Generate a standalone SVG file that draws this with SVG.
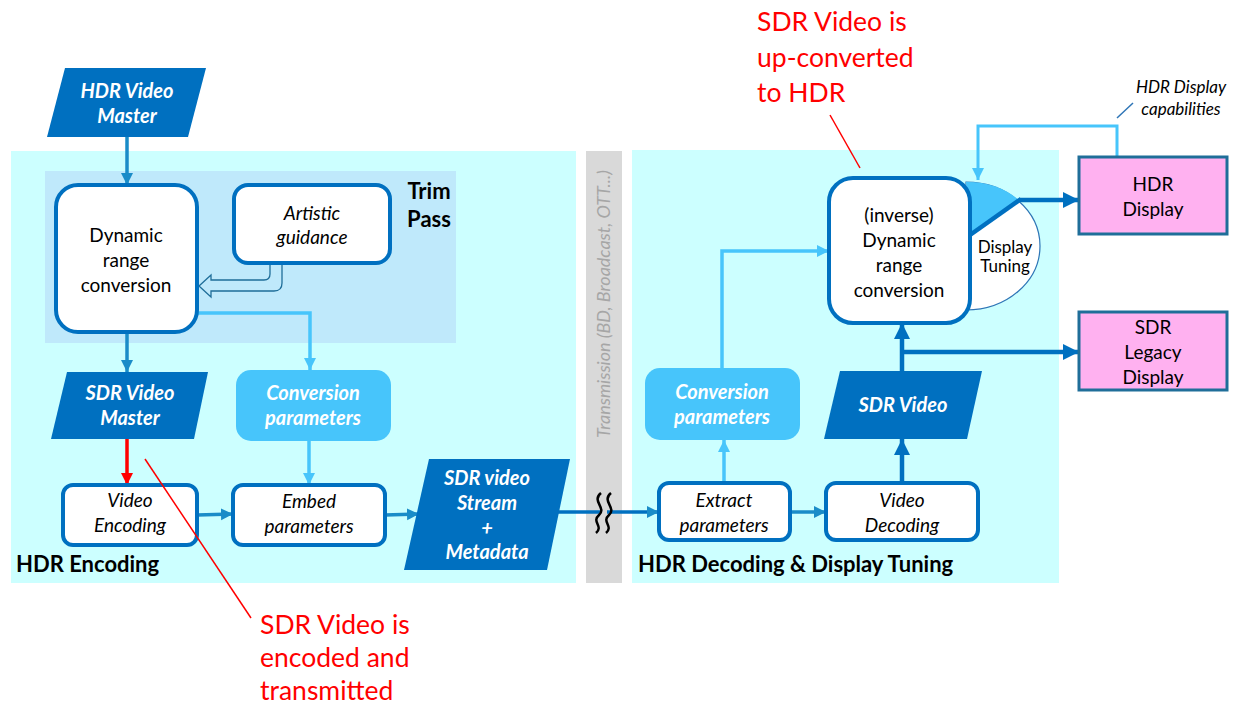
<svg xmlns="http://www.w3.org/2000/svg" width="1238" height="707" viewBox="0 0 1238 707">
<style>
text{font-family:Lato,"Liberation Sans",sans-serif;}
.t{font-size:19px;fill:#000;text-anchor:middle;}
.i{font-style:italic;}
.bw{font-size:20px;font-weight:bold;font-style:italic;fill:#fff;text-anchor:middle;}
.lbl{font-size:22px;font-weight:bold;fill:#000;}
.red{font-size:26.5px;fill:#ff0000;}
.box{fill:#fff;stroke:#0070c0;stroke-width:4;}
.para{fill:#0070c0;}
.lb{fill:#47c5fb;}
.pink{fill:#ffb1f0;stroke:#1f6e99;stroke-width:3;}
.cm{fill:none;stroke:#1a8cc8;stroke-width:3.5;}
.cl{fill:none;stroke:#47c5fb;stroke-width:3.5;}
.cd{fill:none;stroke:#0070c0;stroke-width:4.5;}
</style>
<defs>
<marker id="am" markerUnits="userSpaceOnUse" markerWidth="14" markerHeight="14" refX="12" refY="7" orient="auto"><path d="M0,1 L12,7 L0,13 z" fill="#1a8cc8"/></marker>
<marker id="al" markerUnits="userSpaceOnUse" markerWidth="14" markerHeight="14" refX="12" refY="7" orient="auto"><path d="M0,1 L12,7 L0,13 z" fill="#47c5fb"/></marker>
<marker id="ad" markerUnits="userSpaceOnUse" markerWidth="18" markerHeight="18" refX="16" refY="9" orient="auto"><path d="M0,1 L16,9 L0,17 z" fill="#0070c0"/></marker>
<marker id="ar" markerUnits="userSpaceOnUse" markerWidth="14" markerHeight="14" refX="12" refY="7" orient="auto"><path d="M0,1 L12,7 L0,13 z" fill="#ff0000"/></marker>
</defs>
<rect width="1238" height="707" fill="#fff"/>

<g id="panel-encoding">
<rect x="11" y="151" width="565" height="432" fill="#ccffff"/>
<rect x="45" y="171" width="411" height="172" fill="#bfe9fb"/>
<text class="lbl" x="16" y="572">HDR Encoding</text>
<text class="lbl" x="429" y="199" text-anchor="middle">Trim</text>
<text class="lbl" x="429" y="227" text-anchor="middle">Pass</text>
</g>
<g id="transmission">
<rect x="586" y="151" width="36" height="432" fill="#d9d9d9"/>
<text transform="translate(610,304) rotate(-90)" text-anchor="middle" font-size="18" font-style="italic" fill="#a6a6a6">Transmission (BD, Broadcast, OTT...)</text>
</g>
<g id="panel-decoding">
<rect x="632" y="150" width="427" height="433" fill="#ccffff"/>
<text class="lbl" x="638" y="572">HDR Decoding &amp; Display Tuning</text>
</g>

<g id="connectors">
<line class="cm" x1="127" y1="137" x2="127" y2="185" marker-end="url(#am)"/>
<line class="cm" x1="127" y1="332" x2="127" y2="372" marker-end="url(#am)"/>
<polyline class="cl" points="197,313 310,313 310,370" marker-end="url(#al)"/>
<path d="M270,263 V274 Q270,280 264,280 H211 V275 L199,286 L211,297 V291 H274 Q282,291 282,283 V263" fill="#bfe9fb" stroke="#1f6e99" stroke-width="1.3"/>
<line x1="127" y1="439" x2="127" y2="485" stroke="#ff0000" stroke-width="3.5" marker-end="url(#ar)"/>
<line class="cm" x1="197" y1="515" x2="233" y2="514" marker-end="url(#am)"/>
<line class="cl" x1="309" y1="441" x2="309" y2="485" marker-end="url(#al)"/>
<line class="cm" x1="385" y1="515" x2="419" y2="514" marker-end="url(#am)"/>
<polyline class="cd" style="stroke-width:3.5" points="548,512 600,512"/>
<line x1="607" y1="512" x2="659" y2="512" stroke="#0070c0" stroke-width="3.5" marker-end="url(#am)"/>
<path d="M601,493 C591,501 607,508 599,515 C591,522 604,526 596,533 M611,493 C601,501 617,508 609,515 C601,522 614,526 606,533" fill="none" stroke="#000" stroke-width="2.5"/>
<line class="cm" x1="790" y1="512" x2="826" y2="512" marker-end="url(#am)"/>
<line class="cl" x1="724" y1="483" x2="724" y2="440" marker-end="url(#al)"/>
<polyline class="cl" points="722,368 722,251 829,251" marker-end="url(#al)"/>
<line class="cd" x1="902" y1="483" x2="902" y2="439" marker-end="url(#ad)"/>
<line class="cd" x1="902" y1="371" x2="902" y2="323" marker-end="url(#ad)"/>
<line class="cd" x1="902" y1="352" x2="1079" y2="352" marker-end="url(#ad)"/>
<line class="cd" x1="1019" y1="200" x2="1079" y2="200" marker-end="url(#ad)"/>
<polyline class="cl" style="stroke-width:3" points="1117,157 1117,126 978,126 978,180" marker-end="url(#al)"/>
<line x1="1117" y1="118" x2="1133" y2="103" stroke="#2e75b6" stroke-width="1.5"/>
</g>

<g id="hdr-master">
<polygon class="para" points="65,68 206,68 188,137 47,137"/>
<text class="bw" x="127" y="98">HDR Video</text>
<text class="bw" x="127" y="123">Master</text>
</g>
<g id="drc-enc">
<rect class="box" x="56" y="185" width="141" height="147" rx="22"/>
<text class="t" x="126" y="242">Dynamic</text>
<text class="t" x="126" y="267">range</text>
<text class="t" x="126" y="292">conversion</text>
</g>
<g id="artistic">
<rect class="box" x="234" y="185" width="156" height="78" rx="14"/>
<text class="t i" x="312" y="220">Artistic</text>
<text class="t i" x="312" y="244">guidance</text>
</g>
<g id="sdr-master">
<polygon class="para" points="67,372 208,372 194,439 51,439"/>
<text class="bw" x="130" y="400">SDR Video</text>
<text class="bw" x="130" y="425">Master</text>
</g>
<g id="conv-params-enc">
<rect class="lb" x="236" y="370" width="155" height="71" rx="15"/>
<text class="bw" x="313" y="400">Conversion</text>
<text class="bw" x="313" y="425">parameters</text>
</g>
<g id="video-encoding">
<rect class="box" x="63" y="485" width="134" height="60" rx="10"/>
<text class="t i" x="130" y="507">Video</text>
<text class="t i" x="130" y="532">Encoding</text>
</g>
<g id="embed">
<rect class="box" x="233" y="485" width="152" height="60" rx="10"/>
<text class="t i" x="309" y="508">Embed</text>
<text class="t i" x="309" y="533">parameters</text>
</g>
<g id="sdr-stream">
<polygon class="para" points="429,459 570,459 547,570 404,570"/>
<text class="bw" x="487" y="485">SDR video</text>
<text class="bw" x="487" y="510">Stream</text>
<text class="bw" x="487" y="535">+</text>
<text class="bw" x="487" y="559">Metadata</text>
</g>
<g id="extract">
<rect class="box" x="659" y="483" width="131" height="57" rx="10"/>
<text class="t i" x="724" y="507">Extract</text>
<text class="t i" x="724" y="532">parameters</text>
</g>
<g id="video-decoding">
<rect class="box" x="826" y="483" width="152" height="57" rx="10"/>
<text class="t i" x="902" y="507">Video</text>
<text class="t i" x="902" y="532">Decoding</text>
</g>
<g id="conv-params-dec">
<rect class="lb" x="645" y="368" width="155" height="72" rx="15"/>
<text class="bw" x="722" y="399">Conversion</text>
<text class="bw" x="722" y="424">parameters</text>
</g>
<g id="sdr-video">
<polygon class="para" points="840,371 982,371 967,439 824,439"/>
<text class="bw" x="903" y="412">SDR Video</text>
</g>
<g id="display-tuning">
<path d="M966,182 A74,64 0 0 1 966,310 Z" fill="#fff" stroke="#2e75b6" stroke-width="1.2"/>
<path d="M966,182 A74,64 0 0 1 1019,200 L970,235 Z" fill="#47c5fb"/>
<line class="cd" x1="970" y1="235" x2="1021" y2="199"/>
<text x="1005" y="253" font-size="17" text-anchor="middle">Display</text>
<text x="1005" y="272" font-size="17" text-anchor="middle">Tuning</text>
</g>
<g id="drc-dec">
<rect class="box" x="829" y="178" width="141" height="145" rx="24"/>
<text class="t" x="899" y="222">(inverse)</text>
<text class="t" x="899" y="247">Dynamic</text>
<text class="t" x="899" y="272">range</text>
<text class="t" x="899" y="297">conversion</text>
</g>
<g id="hdr-display">
<rect class="pink" x="1079" y="157" width="148" height="77"/>
<text class="t" x="1153" y="191">HDR</text>
<text class="t" x="1153" y="216">Display</text>
</g>
<g id="sdr-legacy">
<rect class="pink" x="1079" y="312" width="148" height="78"/>
<text class="t" x="1153" y="334">SDR</text>
<text class="t" x="1153" y="359">Legacy</text>
<text class="t" x="1153" y="384">Display</text>
</g>
<g id="notes">
<line x1="145" y1="459" x2="251" y2="618" stroke="#ff0000" stroke-width="1.5"/>
<line x1="830" y1="115" x2="860" y2="168" stroke="#ff0000" stroke-width="1.5"/>
<text x="1181" y="93" font-size="17" font-style="italic" text-anchor="middle">HDR Display</text>
<text x="1181" y="115" font-size="17" font-style="italic" text-anchor="middle">capabilities</text>
<text class="red" x="260" y="634">SDR Video is</text>
<text class="red" x="260" y="667">encoded and</text>
<text class="red" x="260" y="700">transmitted</text>
<text class="red" x="757" y="31">SDR Video is</text>
<text class="red" x="757" y="67">up-converted</text>
<text class="red" x="757" y="102">to HDR</text>
</g>
</svg>
